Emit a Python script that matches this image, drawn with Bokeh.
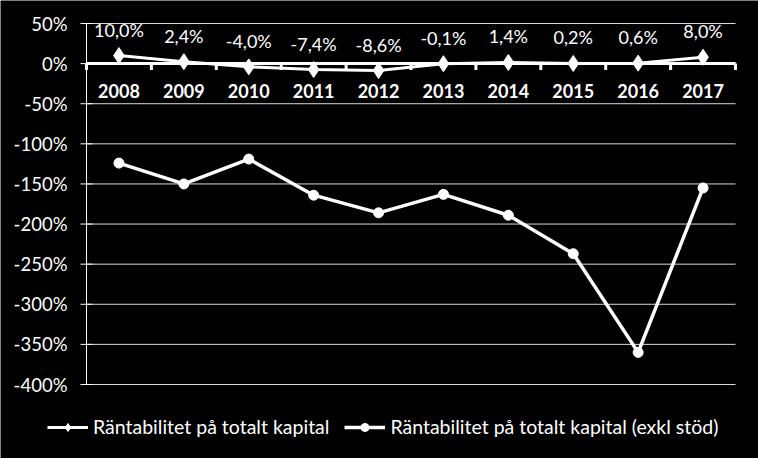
from bokeh.plotting import figure
from bokeh.models import Range1d, ColumnDataSource, Legend, LegendItem
from bokeh.core.properties import value
from bokeh.embed import file_html
from bokeh.resources import INLINE

years = ["2008", "2009", "2010", "2011", "2012", "2013", "2014", "2015", "2016", "2017"]
rtk = [10.0, 2.4, -4.0, -7.4, -8.6, -0.1, 1.4, 0.2, 0.6, 8.0]
rtk_exkl = [-124, -150, -119, -164, -186, -163, -189, -237, -360, -155]
y_ticks = [-400, -350, -300, -250, -200, -150, -100, -50, 0, 50]
y_tick_labels = [f"{t}%" for t in y_ticks]
name1 = "Räntabilitet på totalt kapital"
name2 = "Räntabilitet på totalt kapital (exkl stöd)"

FONT = "Lato"
W, H = 758, 458
# plot-area box inside the canvas (pixels)
L, R, T, B = 86, 735, 23, 384

n = len(years)
xs = list(range(n))
labels = [f"{v:.1f}".replace(".", ",") + "%" for v in rtk]

# ranges chosen so that categories fill [L, R] and y_ticks span [T, B]
x0d, x1d = -0.5, n - 0.5
xpp = (x1d - x0d) / (R - L)
ymin, ymax = y_ticks[0], y_ticks[-1]
ypp = (ymax - ymin) / (B - T)
x_range = Range1d(x0d - L * xpp, x1d + (W - R) * xpp)
y_range = Range1d(ymin - (H - B) * ypp, ymax + T * ypp)

src1 = ColumnDataSource(dict(x=xs, y=rtk, lab=labels))
src2 = ColumnDataSource(dict(x=xs, y=rtk_exkl))
srcy = ColumnDataSource(dict(x=xs, y=[0] * n, yr=years))
srct = ColumnDataSource(dict(x=[x0d] * len(y_ticks), x1=[x1d] * len(y_ticks),
                             y=y_ticks, lab=y_tick_labels))

p = figure(width=W, height=H, output_backend="svg", toolbar_location=None,
           x_range=x_range, y_range=y_range,
           min_border_left=0, min_border_right=0, min_border_top=0,
           min_border_bottom=0, background_fill_color="black",
           border_fill_color="black", outline_line_color=None)
p.axis.visible = False
p.grid.visible = False

# horizontal gridlines at the y ticks
p.segment(x0="x", x1="x1", y0="y", y1="y", source=srct, line_color="#d9d9d9",
          line_width=1)
# value axis: line, outward ticks and labels
p.segment(x0=[x0d], x1=[x0d], y0=[ymin], y1=[ymax], line_color="white", line_width=1)
p.scatter("x", "y", source=srct, marker="dash", size=12, line_color="white",
          line_width=1)
p.text("x", "y", text="lab", source=srct, x_offset=-19, text_align="right",
       text_baseline="middle", text_color="white", text_font=value(FONT),
       text_font_size="18.5px")

# zero line with category boundary ticks
p.segment(x0=[x0d], x1=[x1d], y0=[0], y1=[0], line_color="white", line_width=3)
bx = [i - 0.5 for i in range(n + 1)]
p.segment(x0=bx, x1=bx, y0=[0] * len(bx), y1=[-8] * len(bx), line_color="white",
          line_width=3)

# series
l2 = p.line("x", "y", source=src2, line_color="white", line_width=3.5)
c2 = p.scatter("x", "y", source=src2, marker="circle", size=10,
               fill_color="white", line_color="white")
l1 = p.line("x", "y", source=src1, line_color="white", line_width=3)
c1 = p.scatter("x", "y", source=src1, marker="diamond", size=16,
               fill_color="white", line_color="white")

# data labels
p.text("x", "y", text="lab", source=src1, y_offset=-26, text_align="center",
       text_baseline="middle", text_color="white", text_font=value(FONT),
       text_font_size="18px")

# year labels on the zero line
p.text("x", "y", text="yr", source=srcy, y_offset=27, text_align="center",
       text_baseline="middle", text_color="white", text_font=value(FONT),
       text_font_size="18px", text_font_style="bold")

legend = Legend(items=[LegendItem(label=name1, renderers=[l1, c1]),
                       LegendItem(label=name2, renderers=[l2, c2])],
                orientation="horizontal", location=(47, 20),
                background_fill_color="black", background_fill_alpha=1,
                border_line_color=None, label_text_color="white",
                label_text_font=FONT, label_text_font_size="19.5px",
                glyph_width=41, glyph_height=20, label_standoff=5, spacing=15,
                padding=0, margin=0)
p.add_layout(legend, "center")

open("out.html", "w").write(file_html(p, INLINE))
